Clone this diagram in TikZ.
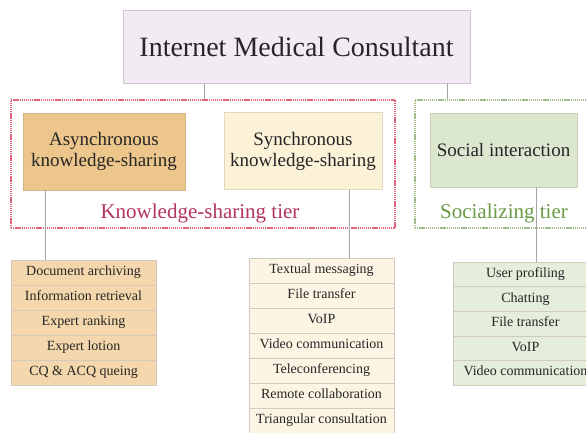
\documentclass[tikz,border=0pt]{standalone}
\usepackage{fontspec}
\setmainfont{Liberation Serif}
\usetikzlibrary{positioning,calc}
\definecolor{imcfill}{HTML}{F3EBF3}
\definecolor{imcline}{HTML}{CEC4CE}
\definecolor{asyfill}{HTML}{EDC68B}
\definecolor{asyline}{HTML}{D8B47E}
\definecolor{synfill}{HTML}{FCF2D8}
\definecolor{synline}{HTML}{E2D8BE}
\definecolor{socfill}{HTML}{DCE7CF}
\definecolor{socline}{HTML}{C4D0B6}
\definecolor{kred}{HTML}{E0647A}
\definecolor{ktext}{HTML}{B3335F}
\definecolor{sgreen}{HTML}{A5BC8C}
\definecolor{stext}{HTML}{6B9A45}
\definecolor{asyrow}{HTML}{F4D7AC}
\definecolor{synrow}{HTML}{FDF5E3}
\definecolor{socrow}{HTML}{E5EDDB}
\definecolor{rowline}{HTML}{D2CABC}
\tikzset{
  % kopf und ebenen
  hd/.style={draw=imcline,fill=imcfill,line width=0.6pt,minimum width=347pt,
             minimum height=73pt,inner sep=0pt,text=black!85,
             font=\fontsize{28}{32}\selectfont},
  tier/.style={line width=1.3pt,dash pattern=on 1.3pt off 0.8pt,minimum height=128pt,
               inner sep=0pt},
  tl/.style={anchor=base,inner sep=0pt,font=\fontsize{21}{24}\selectfont},
  cat/.style={line width=0.6pt,minimum height=77pt,inner sep=0pt,align=center,
              text=black!85,font=\fontsize{19}{21}\selectfont},
  % listen
  ent/.style={draw=rowline,line width=0.5pt,minimum width=145pt,minimum height=25pt,
              inner sep=0pt,text height=9.5pt,text depth=3pt,text=black!85,
              font=\fontsize{14}{16}\selectfont},
  link/.style={draw=black!35,line width=0.6pt},
}
\begin{document}
\begin{tikzpicture}[x=1pt,y=-1pt]
\useasboundingbox (0,0) rectangle (586,433);
\clip (0,0) rectangle (586,433);
\fill[white] (0,0) rectangle (586,433);
  \node[hd] (imc) at (296.5,46.5) {Internet Medical Consultant};
  \node[tier,draw=kred,minimum width=384pt] (ktier) at (203,164) {};
  \node[tier,draw=sgreen,minimum width=195pt] (stier) at (512.5,164) {};
  \node[tl,text=ktext] (klab) at (200,218) {Knowledge-sharing tier};
  \node[tl,text=stext] (slab) at (504,218) {Socializing tier};
  \node[cat,draw=asyline,fill=asyfill,minimum width=162pt] (asy) at (104,151.5)
    {Asynchronous\\knowledge-sharing};
  \node[cat,draw=synline,fill=synfill,minimum width=158pt] (syn) at (303,151)
    {Synchronous\\knowledge-sharing};
  \node[cat,draw=socline,fill=socfill,minimum width=147pt,minimum height=74pt] (soc)
    at (503.5,150) {Social interaction};
  % asynchron
  \node[ent,fill=asyrow] (al1) at (83.5,272.5) {Document archiving};
  \node[ent,fill=asyrow] (al2) at (83.5,297.5) {Information retrieval};
  \node[ent,fill=asyrow] (al3) at (83.5,322.5) {Expert ranking};
  \node[ent,fill=asyrow] (al4) at (83.5,347.5) {Expert lotion};
  \node[ent,fill=asyrow] (al5) at (83.5,372.5) {CQ \& ACQ queing};
  % synchron
  \node[ent,fill=synrow] (sl1) at (321.5,270.5) {Textual messaging};
  \node[ent,fill=synrow] (sl2) at (321.5,295.5) {File transfer};
  \node[ent,fill=synrow] (sl3) at (321.5,320.5) {VoIP};
  \node[ent,fill=synrow] (sl4) at (321.5,345.5) {Video communication};
  \node[ent,fill=synrow] (sl5) at (321.5,370.5) {Teleconferencing};
  \node[ent,fill=synrow] (sl6) at (321.5,395.5) {Remote collaboration};
  \node[ent,fill=synrow] (sl7) at (321.5,420.5) {Triangular consultation};
  % sozial
  \node[ent,fill=socrow,minimum height=24.6pt] (ol1) at (525.5,274.3) {User profiling};
  \node[ent,fill=socrow,minimum height=24.6pt] (ol2) at (525.5,298.9) {Chatting};
  \node[ent,fill=socrow,minimum height=24.6pt] (ol3) at (525.5,323.5) {File transfer};
  \node[ent,fill=socrow,minimum height=24.6pt] (ol4) at (525.5,348.1) {VoIP};
  \node[ent,fill=socrow,minimum height=24.6pt] (ol5) at (525.5,372.7) {Video communication};
  \draw[link] ([xshift=82pt]imc.south west) -- ([xshift=82pt]imc.south west |- ktier.north);
  \draw[link] ([xshift=325pt]imc.south west) -- ([xshift=325pt]imc.south west |- stier.north);
  \draw[link] ([xshift=23pt]asy.south west) -- ([xshift=23pt]asy.south west |- al1.north);
  \draw[link] ([xshift=126pt]syn.south west) -- ([xshift=126pt]syn.south west |- sl1.north);
  \draw[link] ([xshift=107pt]soc.south west) -- ([xshift=107pt]soc.south west |- ol1.north);
\end{tikzpicture}
\end{document}
